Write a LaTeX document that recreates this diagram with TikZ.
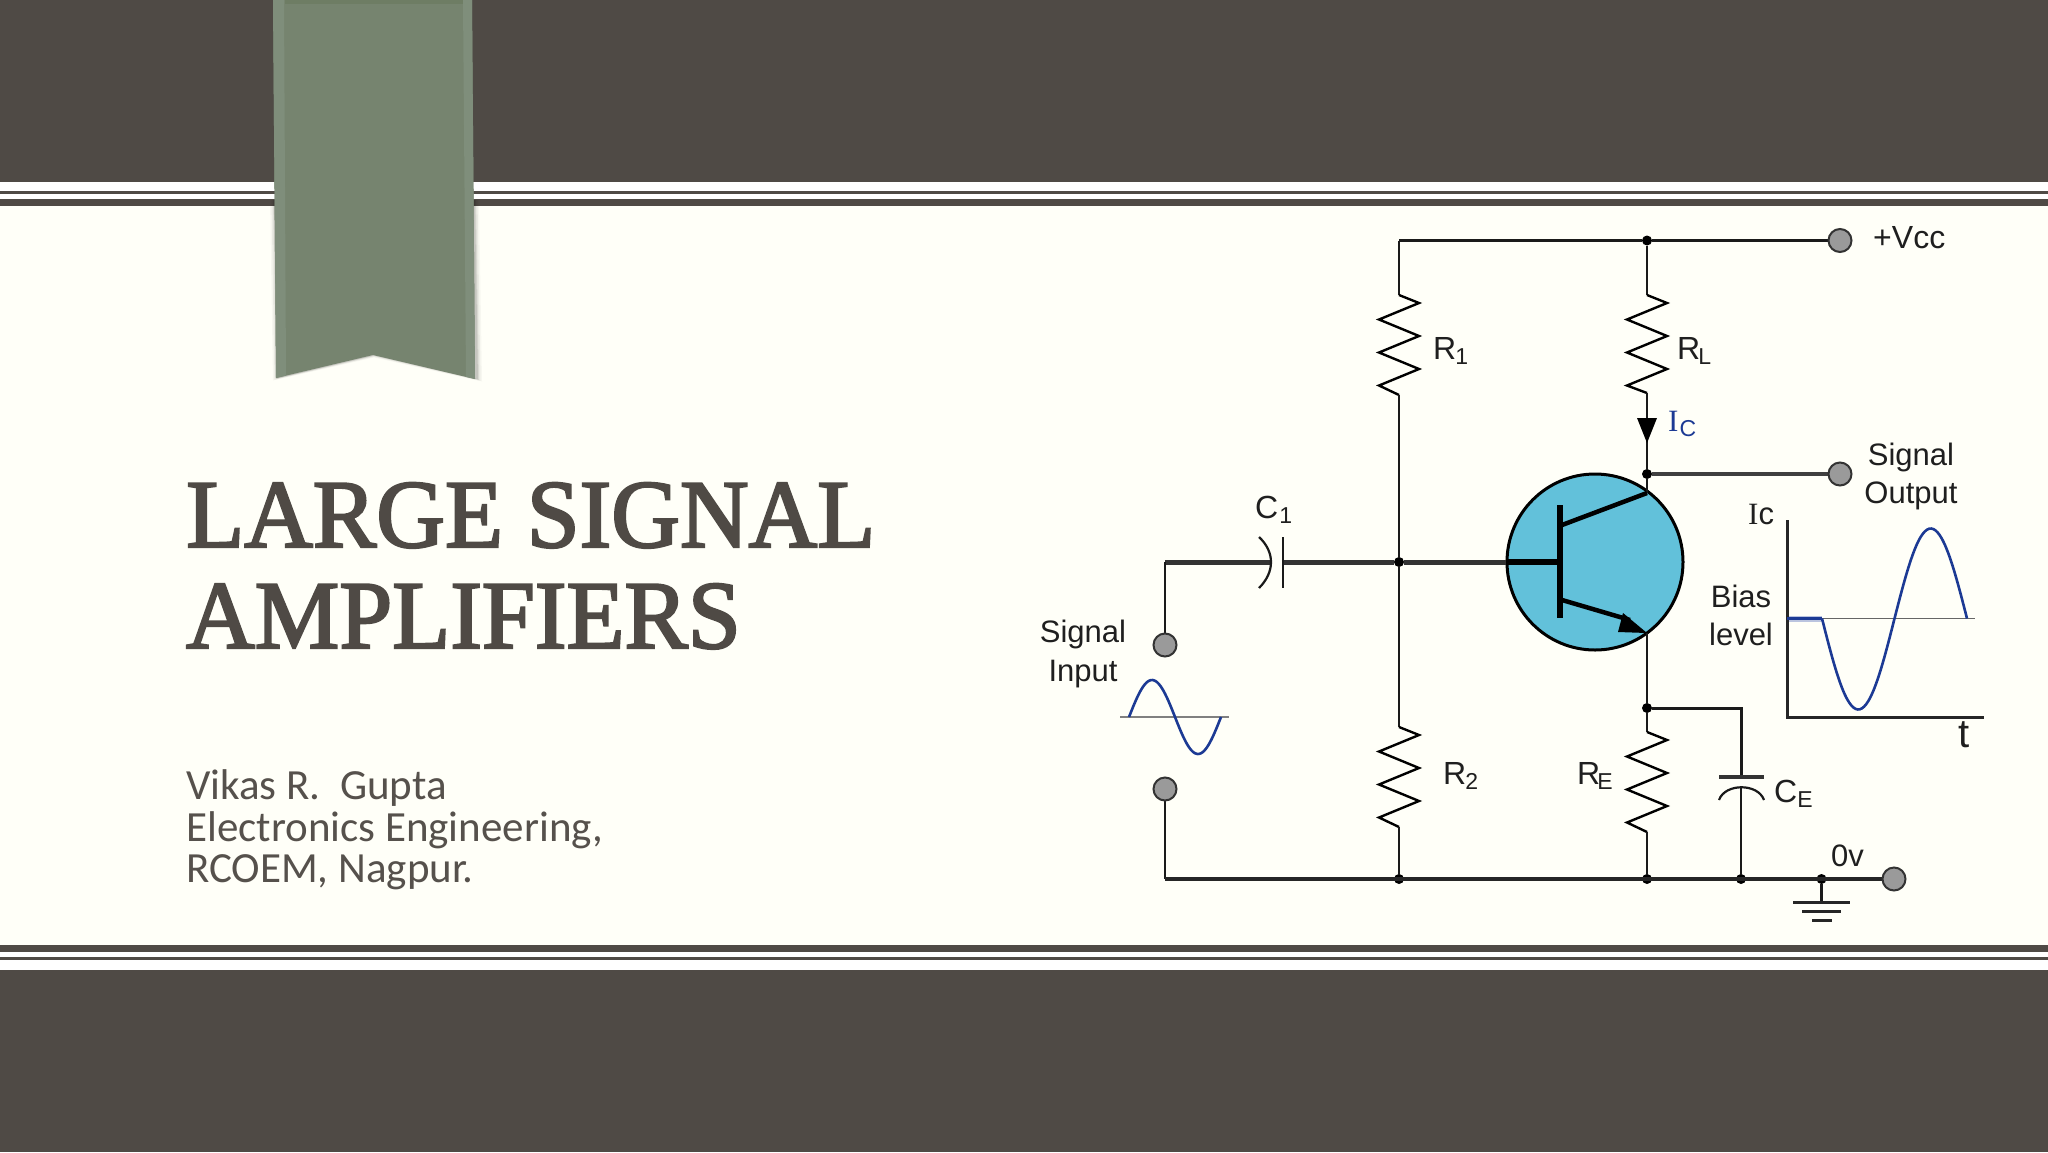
\documentclass[tikz,border=0pt]{standalone}
\usepackage{fontspec}
\setmainfont{Liberation Sans}
\newfontfamily\titlefont[FakeBold=2.4,FakeStretch=0.98]{Liberation Serif}
\newfontfamily\subfont{Carlito}
\newfontfamily\serifI{Liberation Serif}
\definecolor{band}{HTML}{4F4A45}
\definecolor{paper}{HTML}{FFFFF8}
\definecolor{ribbon}{HTML}{76846F}
\definecolor{ribbonedge}{HTML}{7F8E7B}
\definecolor{ribbontop}{HTML}{6E7D64}
\definecolor{bjt}{HTML}{62C1DA}
\definecolor{sineblue}{HTML}{1C3A94}
\definecolor{wire}{HTML}{1A1A1A}
\definecolor{termfill}{HTML}{9A9A9A}
\newcommand{\lbl}[1]{\fontsize{#1}{#1}\selectfont}
\newcommand{\sbs}[1]{\raisebox{-5pt}{\lbl{23}#1}}
\tikzset{
  thin wire/.style={draw=wire,line width=2.2pt},
  bus wire/.style={draw=wire,line width=3.6pt},
  terminal/.style={circle,draw=black!80,fill=termfill,line width=2pt,minimum size=23pt,inner sep=0pt},
  junction/.style={circle,fill=black,minimum size=10pt,inner sep=0pt},
  zig/.style={draw=black,line width=2.4pt,line join=miter},
  cktlabel/.style={anchor=base west,inner sep=0pt,text=black!88},
  cktcenter/.style={anchor=base,inner sep=0pt,text=black!88},
  sine/.style={draw=sineblue,line width=2.6pt},
  titletext/.style={anchor=base west,inner sep=0pt,text=band},
  subtext/.style={anchor=base west,inner sep=0pt,text=band!96}
}
\newcommand{\zigzag}[2]{\draw[zig] (#1) -- ++(20,8) -- ++(-40,16.5) -- ++(40,16.5) -- ++(-40,16.5) -- ++(40,16.5) -- ++(-40,16.5) -- (#2);}
\begin{document}
\begin{tikzpicture}[x=1pt,y=-1pt]
\useasboundingbox (0,0) rectangle (2048,1152);
% slide background
\fill[paper] (0,0) rectangle (2048,1152);
\fill[band] (0,0) rectangle (2048,181.5);
\fill[white] (0,181.5) rectangle (2048,199);
\fill[band] (0,191) rectangle (2048,193.5);
\fill[band] (0,199) rectangle (2048,206);
\fill[band] (0,945) rectangle (2048,952);
\fill[white] (0,952) rectangle (2048,970);
\fill[band] (0,957) rectangle (2048,960);
\fill[band] (0,970) rectangle (2048,1152);
% ribbon shadow
\foreach \d/\o in {5/.03,3.5/.05,2/.07,1/.09}{
  \fill[black,opacity=\o] (273-\d+2,200) -- (276-\d+2,378+\d*.5) -- (373+1,355+\d*.5) -- (475+\d+2,379+\d*.5) -- (472+\d+2,200) -- cycle;
}
% ribbon
\fill[ribbon] (273,0) -- (472,0) -- (475,379) -- (373,355) -- (276,378) -- cycle;
\fill[ribbonedge] (273,0) -- (284,0) -- (286,375.6) -- (276,378) -- cycle;
\fill[ribbonedge] (463,0) -- (472,0) -- (475,379) -- (466,376.9) -- cycle;
\fill[ribbontop] (285,0) rectangle (463,4);
% title and subtitle
\node[titletext] (title1) at (186,547) {\titlefont\lbl{97}LARGE SIGNAL};
\node[titletext] (title2) at (186,648) {\titlefont\lbl{97}AMPLIFIERS};
\node[subtext] (sub1) at (186,799) {\subfont\lbl{43}Vikas R.\ \ Gupta};
\node[subtext] (sub2) at (186,841) {\subfont\lbl{43}Electronics Engineering,};
\node[subtext] (sub3) at (186,882) {\subfont\lbl{43}RCOEM, Nagpur.};
% transistor body
\node[circle,draw=black,fill=bjt,line width=3pt,minimum size=176pt,inner sep=0pt] (q) at (1595,562) {};
% named points
\coordinate (tl) at (1399,240.5);
\coordinate (r1t) at (1399,295);
\coordinate (r1b) at (1399,395);
\coordinate (rlt) at (1647,295);
\coordinate (rlb) at (1647,393);
\coordinate (r2t) at (1399,727);
\coordinate (r2b) at (1399,827);
\coordinate (ret) at (1647,732);
\coordinate (reb) at (1647,832);
\coordinate (inb) at (1165,562);
\coordinate (inl) at (1165,879);
\coordinate (c1a) at (1272,562);
\coordinate (c1b) at (1283,562);
\coordinate (baseend) at (1560,562);
\coordinate (ctop) at (1562,525);
\coordinate (cend) at (1647,493);
\coordinate (etop) at (1562,600);
\coordinate (eend) at (1647,633);
\coordinate (cecor) at (1741,708);
\coordinate (cep1) at (1741,777);
\coordinate (cep2) at (1741,787);
\coordinate (gnd1) at (1821.5,902);
% terminals and junctions
\node[junction] (jtop) at (1647,240.5) {};
\node[junction] (jout) at (1647,474) {};
\node[junction] (jbase) at (1399,562) {};
\node[junction] (jem) at (1647,708) {};
\node[junction] (jb1) at (1399,879) {};
\node[junction] (jb2) at (1647,879) {};
\node[junction] (jb3) at (1741,879) {};
\node[junction] (jb4) at (1821.5,879) {};
% wires
\draw[bus wire] (tl) -- (jtop) -- (1828,240.5);
\draw[thin wire] (tl) -- (r1t);
\zigzag{r1t}{r1b}
\draw[thin wire] (r1b) -- (jbase) -- (r2t);
\zigzag{r2t}{r2b}
\draw[thin wire] (r2b) -- (jb1);
\draw[thin wire] (jtop) -- (rlt);
\zigzag{rlt}{rlb}
\draw[thin wire] (rlb) -- (jout) -- (cend);
\draw[bus wire,line width=4.5pt,draw=black!75] (jout) -- (1828,474);
\draw[line width=5pt,draw=black!80] (inb) -- (c1a);
\draw[line width=5pt,draw=black!80] (c1b) -- (jbase) -- (q.west);
\draw[line width=5.5pt,draw=black] (q.west) -- (baseend);
\draw[thin wire,line width=2.5pt] (inb) -- (1165,633);
\draw[thin wire,line width=2.5pt] (1165,801) -- (inl);
\draw[bus wire,line width=4.4pt,draw=black!85] (inl) -- (1882,879);
\draw[thin wire] (eend) -- (jem) -- (ret);
\zigzag{ret}{reb}
\draw[thin wire] (reb) -- (jb2);
\draw[thin wire,line width=3pt] (jem) -- (cecor) -- (cep1);
\draw[thin wire,line width=2.5pt] (cep2) -- (jb3);
\draw[thin wire] (jb4) -- (gnd1);
% transistor inside
\draw[line width=6pt,draw=black] (1560,505) -- (1560,618);
\draw[line width=4.5pt,draw=black] (ctop) -- (cend);
\draw[line width=4.5pt,draw=black] (etop) -- (1630,620);
\fill[black] (eend) -- (1623,613) -- (1618,632) -- cycle;
% collector current arrow
\fill[black] (1637,418) -- (1657,418) -- (1647,443) -- cycle;
% capacitors
\draw[thin wire] (1283,537) -- (1283,588);
\draw[thin wire] (1259,537) .. controls (1275,552) and (1275,572) .. (1259,588);
\draw[black!80,line width=4.5pt] (1719,777) -- (1764,777);
\draw[thin wire] (1719,800) .. controls (1725,783) and (1758,783) .. (1764,800);
% ground
\draw[black!85,line width=3pt] (1793,902) -- (1850,902);
\draw[black!85,line width=3pt] (1802,911) -- (1841,911);
\draw[black!85,line width=3pt] (1812,920) -- (1832,920);
% terminals
\node[terminal] (tvcc) at (1840,240.5) {};
\node[terminal] (tout) at (1840,474) {};
\node[terminal] (tin1) at (1165,645) {};
\node[terminal] (tin2) at (1165,789) {};
\node[terminal] (tgnd) at (1894,879) {};
% input sine
\draw[black!50,line width=2.4pt] (1120,717) -- (1229,717);
\draw[sine] plot[domain=0:360,samples=60,smooth] ({1129+\x/360*92},{717-37*sin(\x)});
% output graph
\draw[sineblue!30,line width=6pt] (1788,618.5) -- (1822,618.5);
\draw[black!60,line width=1.8pt] (1787,618.5) -- (1975,618.5);
\draw[black!85,line width=3pt] (1787,520) -- (1787,717) -- (1984,717);
\draw[sine] (1787,618.5) -- (1822,618.5);
\draw[sine] plot[domain=0:360,samples=70,smooth] ({1822+\x/360*145},{618.5+(\x>180?90:91)*sin(\x)});
% labels
\node[cktlabel] (lvcc) at (1873,248) {\lbl{32}+Vcc};
\node[cktlabel] (lr1) at (1433,359) {\lbl{32}R\hspace{-1pt}\sbs{1}};
\node[cktlabel] (lrl) at (1677,359) {\lbl{32}R\hspace{-2pt}\sbs{L}};
\node[cktlabel,text=sineblue] (lic) at (1668,431) {\serifI\lbl{31}I\hspace{1pt}\sbs{\rmfamily C}};
\node[cktcenter] (lso1) at (1911,465) {\lbl{31}Signal};
\node[cktcenter] (lso2) at (1911,503) {\lbl{31}Output};
\node[cktlabel] (lic2) at (1748,524) {\lbl{31}{\serifI I}c};
\node[cktcenter] (lb1) at (1741,607) {\lbl{31}Bias};
\node[cktcenter] (lb2) at (1741,645) {\lbl{31}level};
\node[cktlabel] (lc1) at (1255,518) {\lbl{32}C\hspace{1pt}\sbs{1}};
\node[cktcenter] (lsi1) at (1083,642) {\lbl{31}Signal};
\node[cktcenter] (lsi2) at (1083,681) {\lbl{31}Input};
\node[cktlabel] (lr2) at (1443,784) {\lbl{32}R\hspace{-1pt}\sbs{2}};
\node[cktlabel] (lre) at (1577,784) {\lbl{32}R\hspace{-3pt}\sbs{E}};
\node[cktlabel] (lce) at (1774,802) {\lbl{32}C\hspace{0pt}\sbs{E}};
\node[cktlabel] (l0v) at (1831,866) {\lbl{31}0v};
\node[cktlabel] (lt) at (1958,747) {\lbl{40}t};
\end{tikzpicture}
\end{document}
